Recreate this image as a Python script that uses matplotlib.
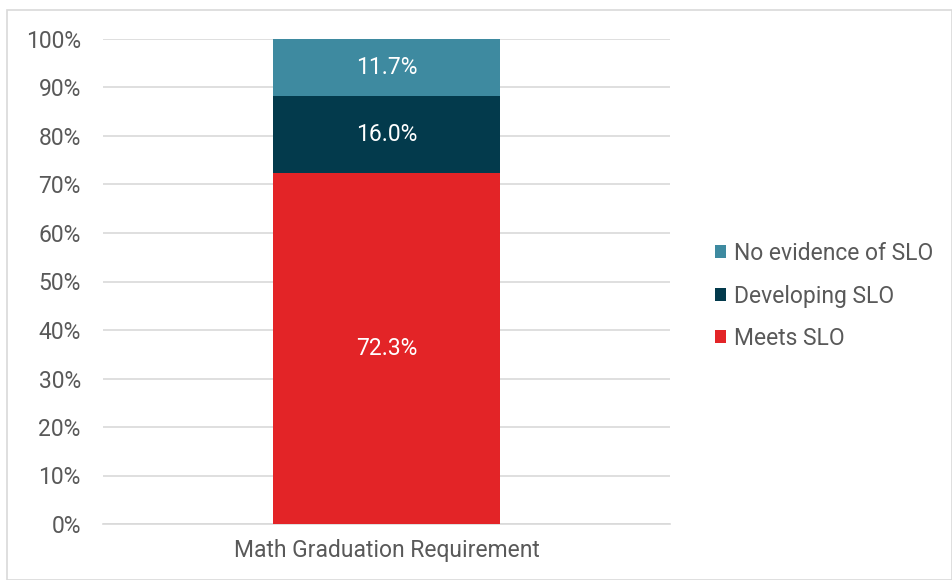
import matplotlib.pyplot as plt
from matplotlib.patches import Rectangle

plt.rcParams["font.family"] = ["Roboto", "DejaVu Sans"]

CATEGORY = "Math Graduation Requirement"
SERIES = ["Meets SLO", "Developing SLO", "No evidence of SLO"]
VALUES = [72.3, 16.0, 11.7]
COLORS = ["#E32427", "#033A4C", "#3E8AA0"]
YTICKS = list(range(0, 101, 10))

TEXT = "#595959"
GRID = "#D9D9D9"
FS = 16.5

fig = plt.figure(figsize=(9.52, 5.8), dpi=100)
fig.patches.append(
    Rectangle((7 / 952, 0), 1 - 7 / 952, 1 - 10 / 580, transform=fig.transFigure,
              fill=False, edgecolor=GRID, linewidth=1.2)
)
ax = fig.add_axes([103 / 952, 56 / 580, 567 / 952, 485 / 580])

bottom = 0.0
handles = []
for name, val, col in zip(SERIES, VALUES, COLORS):
    b = ax.bar(0, val, bottom=bottom, width=0.4, color=col, label=name, zorder=3)
    handles.append(b)
    ax.text(0, bottom + val / 2, f"{val:.1f}%", ha="center", va="center",
            color="white", fontsize=FS, zorder=4)
    bottom += val

ax.set_xlim(-0.5, 0.5)
ax.set_ylim(0, 100)
ax.set_yticks(YTICKS)
ax.set_yticklabels([f"{t}%" for t in YTICKS])
ax.set_xticks([0])
ax.set_xticklabels([CATEGORY])
ax.tick_params(axis="both", length=0, colors=TEXT, labelsize=FS)
ax.tick_params(axis="y", pad=16)
ax.tick_params(axis="x", pad=11)
ax.grid(True, axis="y", color=GRID, linewidth=1.2, zorder=0)
for s in ["top", "right", "left"]:
    ax.spines[s].set_visible(False)
ax.spines["bottom"].set_color(GRID)
ax.spines["bottom"].set_linewidth(1.2)

leg = fig.legend(
    handles=handles[::-1], labels=SERIES[::-1],
    loc="center left", bbox_to_anchor=(694 / 952, 1 - 296 / 580),
    frameon=False, fontsize=FS, handlelength=0.48, handleheight=0.48,
    handletextpad=0.35, labelspacing=0.85, labelcolor=TEXT,
)

fig.savefig("out.png", dpi=100)
